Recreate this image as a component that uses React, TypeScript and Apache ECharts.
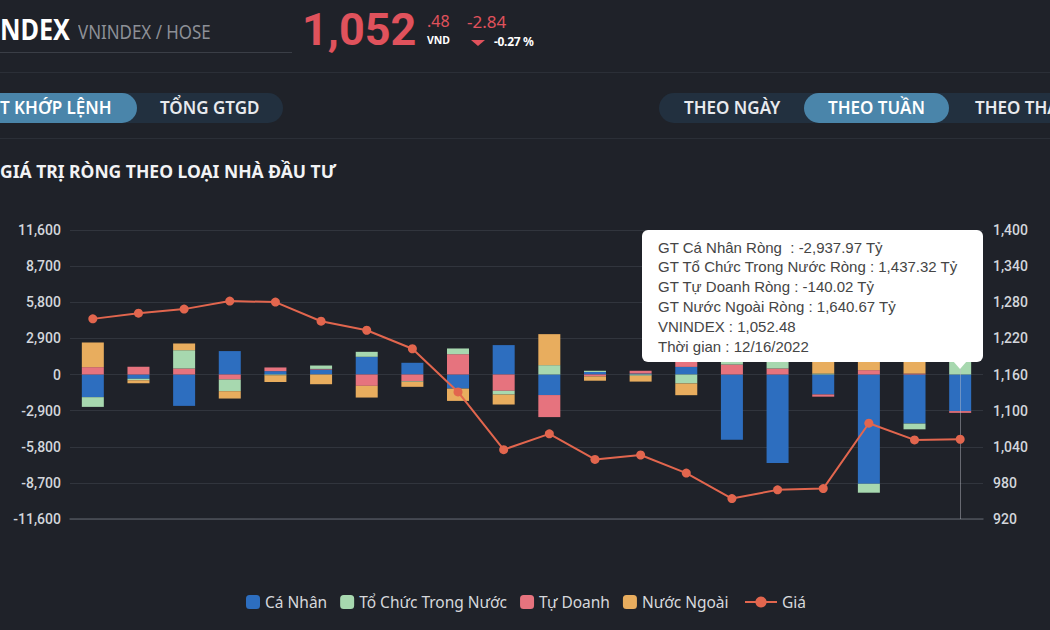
import React, { useEffect, useRef } from "react";
import * as echarts from "echarts";

// ---- data ----
const weeks = [
  "08/05/2022", "08/12/2022", "08/19/2022", "08/26/2022", "09/02/2022",
  "09/09/2022", "09/16/2022", "09/23/2022", "09/30/2022", "10/07/2022",
  "10/14/2022", "10/21/2022", "10/28/2022", "11/04/2022", "11/11/2022",
  "11/18/2022", "11/25/2022", "12/02/2022", "12/09/2022", "12/16/2022",
];
const caNhan = [-1820, -350, -2520, 1880, 270, 400, 1420, 940, -1130, 2360, -1650, 200, 80, 610, -5230, -7100, -1600, -8770, -3940, -2937.97];
const toChuc = [-780, -120, 1470, -940, -60, 270, 400, -50, 460, -300, 750, 100, -100, -720, 700, 900, 80, -720, -460, 1437.32];
const tuDoanh = [590, 620, 480, -400, 295, 50, -910, -540, 1630, -1310, -1770, -150, 220, 400, 800, 480, -180, 350, 80, -140.02];
const nuocNgoai = [1980, -230, 540, -590, -540, -780, -940, -400, -990, -800, 2490, -350, -470, -940, 300, 200, 1200, 900, 1300, 1640.67];
const vnindex = [1252.4, 1261.9, 1268.6, 1282.0, 1280.3, 1248.5, 1233.5, 1202.8, 1131.0, 1035.2, 1061.4, 1019.0, 1026.3, 996.3, 954.0, 968.4, 970.5, 1079.1, 1051.4, 1052.48];
const names = ["Cá Nhân", "Tổ Chức Trong Nước", "Tự Doanh", "Nước Ngoài", "Giá"];
const leftAxis = { min: -11600, max: 11600, interval: 2900 };
const rightAxis = { min: 920, max: 1400, interval: 60 };

const C_BLUE = "#2d6ebf";
const C_GREEN = "#a7d8af";
const C_RED = "#e6737e";
const C_ORANGE = "#e8ad5e";
const C_LINE = "#e2664e";
const BG = "#1f2229";

const fmt2 = (v: number) =>
  v.toLocaleString("en-US", { minimumFractionDigits: 2, maximumFractionDigits: 2 });

export default function App() {
  const ref = useRef<HTMLDivElement>(null);

  useEffect(() => {
    if (!ref.current) return;
    const chart = echarts.init(ref.current, null, { renderer: "svg" });
    const last = weeks.length - 1;
    const tipLines = [
      `GT Cá Nhân Ròng  : ${fmt2(caNhan[last])} Tỷ`,
      `GT Tổ Chức Trong Nước Ròng : ${fmt2(toChuc[last])} Tỷ`,
      `GT Tự Doanh Ròng : ${fmt2(tuDoanh[last])} Tỷ`,
      `GT Nước Ngoài Ròng : ${fmt2(nuocNgoai[last])} Tỷ`,
      `VNINDEX : ${fmt2(vnindex[last])}`,
      `Thời gian : ${weeks[last]}`,
    ];
    const axisLabel = {
      color: "#d3d6dc",
      fontSize: 14,
      fontWeight: 500,
      fontFamily: "Roboto",
    };
    const barCommon = {
      type: "bar",
      stack: "total",
      barWidth: 22,
    };
    const legendText = { color: "#d6d8dc", fontSize: 15.5, fontFamily: "Noto Sans" };
    chart.setOption({
      animation: false,
      backgroundColor: "transparent",
      grid: { left: 70, right: 67, top: 230, bottom: 111 },
      legend: [
        {
          data: names.slice(0, 4),
          left: 241,
          top: 589,
          itemWidth: 14,
          itemHeight: 14,
          itemGap: 13,
          icon: "roundRect",
          textStyle: legendText,
        },
        {
          data: [names[4]],
          left: 739,
          top: 589,
          itemWidth: 32,
          itemHeight: 14,
          textStyle: legendText,
        },
      ],
      xAxis: {
        type: "category",
        data: weeks,
        axisLine: { onZero: false, lineStyle: { color: "#4d515a", width: 1.5 } },
        axisTick: { show: false },
        axisLabel: { show: false },
      },
      yAxis: [
        {
          type: "value",
          ...leftAxis,
          axisLabel: { ...axisLabel, margin: 9, formatter: (v: number) => v.toLocaleString("en-US") },
          splitLine: { lineStyle: { color: "#31353d", width: 1.2 } },
          axisLine: { show: false },
          axisTick: { show: false },
        },
        {
          type: "value",
          ...rightAxis,
          axisLabel: { ...axisLabel, margin: 10, formatter: (v: number) => v.toLocaleString("en-US") },
          splitLine: { show: false },
          axisLine: { show: false },
          axisTick: { show: false },
        },
      ],
      series: [
        { ...barCommon, name: names[0], data: caNhan, itemStyle: { color: C_BLUE } },
        { ...barCommon, name: names[2], data: tuDoanh, itemStyle: { color: C_RED } },
        { ...barCommon, name: names[1], data: toChuc, itemStyle: { color: C_GREEN } },
        { ...barCommon, name: names[3], data: nuocNgoai, itemStyle: { color: C_ORANGE } },
        {
          type: "line",
          name: names[4],
          yAxisIndex: 1,
          data: vnindex,
          symbol: "circle",
          symbolSize: 9,
          z: 5,
          itemStyle: { color: C_LINE },
          lineStyle: { color: C_LINE, width: 2 },
          markLine: {
            silent: true,
            symbol: "none",
            label: { show: false },
            lineStyle: { color: "rgba(190,194,202,0.45)", width: 1, type: "solid" },
            data: [{ xAxis: weeks[last] }],
          },
        },
      ],
      graphic: [
        {
          type: "group",
          x: 642,
          y: 230,
          z: 100,
          zlevel: 0,
          children: [
            {
              type: "rect",
              z: 100,
              shape: { x: 0, y: 0, width: 341, height: 132, r: 6 },
              style: { fill: "#ffffff" },
            },
            {
              type: "polygon",
              z: 100,
              shape: { points: [[311, 131], [325, 131], [318, 139]] },
              style: { fill: "#ffffff" },
            },
            ...tipLines.map((t, i) => ({
              type: "text",
              z: 101,
              x: 16,
              y: 17 + i * 19.8,
              style: {
                text: t,
                fill: "#454545",
                fontSize: 15,
                fontFamily: "Liberation Sans",
                textVerticalAlign: "middle",
              },
            })),
          ],
        },
      ],
    });
    return () => chart.dispose();
  }, []);

  const abs = (o: React.CSSProperties): React.CSSProperties => ({
    position: "absolute",
    whiteSpace: "nowrap",
    margin: 0,
    ...o,
  });
  const ff = "'Noto Sans', Roboto, sans-serif";

  return (
    <div
      style={{
        position: "fixed",
        left: 0,
        top: 0,
        width: 1050,
        height: 630,
        background: BG,
        overflow: "hidden",
        fontFamily: ff,
      }}
    >
      {/* header */}
      <div style={abs({ left: 0, top: 14, fontSize: 29, fontWeight: 700, color: "#fff", lineHeight: "30px", transform: "scaleX(0.87)", transformOrigin: "left" })}>NDEX</div>
      <div style={abs({ left: 78, top: 22, fontSize: 19, color: "#8d9097", lineHeight: "20px", transform: "scaleX(0.89)", transformOrigin: "left" })}>
        VNINDEX / HOSE
      </div>
      <div style={abs({ left: 0, top: 52, width: 292, height: 1, background: "#3a3e46" })} />
      <div style={abs({ left: 302, top: 7, fontSize: 45, fontWeight: 700, color: "#e0525c", lineHeight: "46px", fontFamily: "Roboto" })}>1,052</div>
      <div style={abs({ left: 427, top: 13, fontSize: 16, color: "#e0525c", lineHeight: "17px" })}>.48</div>
      <div style={abs({ left: 427, top: 35, fontSize: 10.5, fontWeight: 700, color: "#fff", lineHeight: "11px" })}>VND</div>
      <div style={abs({ left: 467, top: 13, fontSize: 17, color: "#e0525c", lineHeight: "17px" })}>-2.84</div>
      <div
        style={abs({
          left: 471,
          top: 40,
          width: 0,
          height: 0,
          borderLeft: "7px solid transparent",
          borderRight: "7px solid transparent",
          borderTop: "6px solid #e0525c",
        })}
      />
      <div style={abs({ left: 494, top: 36, fontSize: 12, fontWeight: 700, color: "#fff", lineHeight: "12px", letterSpacing: -0.3 })}>-0.27 %</div>
      <div style={abs({ left: 0, top: 72, width: 1050, height: 1, background: "#2b2f37" })} />

      {/* toggle groups */}
      <div style={abs({ left: -20, top: 93, width: 303, height: 30, borderRadius: 15, background: "#22303f" })} />
      <div style={abs({ left: -20, top: 93, width: 157, height: 30, borderRadius: 15, background: "#4a85aa" })} />
      <div style={abs({ left: 0, top: 93, fontSize: 17, fontWeight: 600, color: "#fff", lineHeight: "30px" })}>T KHỚP LỆNH</div>
      <div style={abs({ left: 160, top: 93, fontSize: 17, fontWeight: 600, color: "#e8eaee", lineHeight: "30px" })}>TỔNG GTGD</div>

      <div style={abs({ left: 659, top: 93, width: 420, height: 30, borderRadius: 15, background: "#22303f" })} />
      <div style={abs({ left: 804, top: 93, width: 145, height: 30, borderRadius: 15, background: "#4a85aa" })} />
      <div style={abs({ left: 684, top: 93, fontSize: 17, fontWeight: 600, color: "#e8eaee", lineHeight: "30px" })}>THEO NGÀY</div>
      <div style={abs({ left: 828, top: 93, fontSize: 17, fontWeight: 600, color: "#fff", lineHeight: "30px" })}>THEO TUẦN</div>
      <div style={abs({ left: 975, top: 93, fontSize: 17, fontWeight: 600, color: "#e8eaee", lineHeight: "30px" })}>THEO THÁNG</div>
      <div style={abs({ left: 0, top: 138, width: 1050, height: 1, background: "#2b2f37" })} />

      <div style={abs({ left: 0, top: 159, fontSize: 17.5, fontWeight: 700, color: "#f2f3f5", lineHeight: "24px" })}>
        GIÁ TRỊ RÒNG THEO LOẠI NHÀ ĐẦU TƯ
      </div>

      <div ref={ref} style={{ position: "absolute", left: 0, top: 0, width: 1050, height: 630 }} />
    </div>
  );
}
